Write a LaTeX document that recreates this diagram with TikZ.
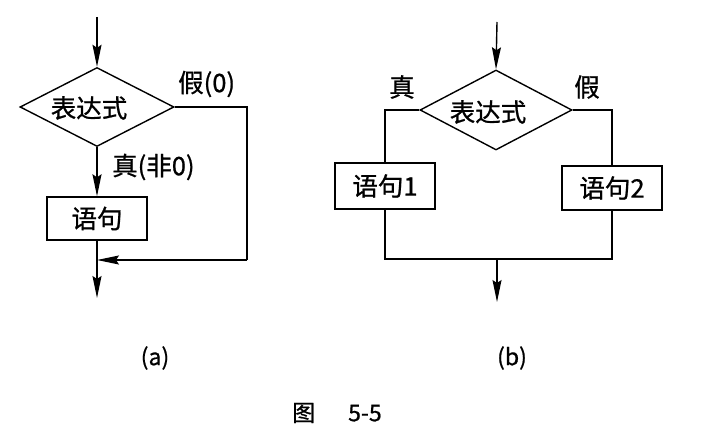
\documentclass[tikz,border=0pt]{standalone}
\usepackage{fontspec}
\setmainfont{Noto Sans CJK SC}[FakeBold=0.8]
\usetikzlibrary{shapes.geometric,arrows.meta}
\tikzset{
  ln/.style={line width=1.4pt},
  arr/.style={ln,-{Stealth[length=22pt,width=9pt,inset=3pt]}},
  dia/.style={draw,ln,diamond,inner sep=0pt,minimum width=154pt,minimum height=79pt},
  box/.style={draw,ln,rectangle,inner sep=0pt,minimum width=100pt,minimum height=44pt},
  txt/.style={font=\fontsize{25.5}{28}\selectfont},
  captxt/.style={font=\fontsize{23}{26}\selectfont},
}
\begin{document}
\begin{tikzpicture}[x=1pt,y=-1pt]
\useasboundingbox (0,0) rectangle (703,430);
% (a)
\coordinate (a0) at (97,17);
\node[dia] (ad) at (97,107) {};
\node[txt] (adt) at (89,108) {表达式};
\node[box,txt,minimum height=43pt] (ab) at (97,218.5) {语句};
\coordinate (aj) at (97,260);
\coordinate (ar) at (247,107);
\coordinate (arb) at (247,260);
\coordinate (aend) at (97,298);
\draw[arr] (a0) -- (ad.north);
\draw[arr] (ad.south) -- (ab.north);
\draw[ln] (ab.south) -- (aj);
\draw[arr] (aj) -- (aend);
\draw[ln] (ad.east) -- (ar) -- (arb);
\draw[arr] (arb) -- (aj);
\node[txt,anchor=west,inner sep=0pt] (lf) at (178,84) {假(0)};
\node[txt,anchor=west,inner sep=0pt] (lt) at (112,167) {真(非0)};
% (b)
\coordinate (b0) at (497,22);
\node[dia,minimum width=152pt,minimum height=80pt] (bd) at (496,110) {};
\node[txt] (bdt) at (488,112) {表达式};
\node[box,txt,minimum height=46pt] (b1) at (385,186) {语句1};
\node[box,txt] (b2) at (612,188) {语句2};
\coordinate (bl) at (385,110);
\coordinate (br) at (612,110);
\coordinate (bl2) at (385,259);
\coordinate (br2) at (612,259);
\coordinate (bj) at (497,259);
\coordinate (bend) at (497,302);
\draw[arr] (b0) -- (bd.north);
\draw[ln] (bd.west) -- (bl) -- (b1.north);
\draw[ln] (bd.east) -- (br) -- (b2.north);
\draw[ln] (b1.south) -- (bl2) -- (br2) -- (b2.south);
\draw[arr] (bj) -- (bend);
\node[txt,inner sep=0pt] (bt) at (402,87) {真};
\node[txt,inner sep=0pt] (bf) at (587,87) {假};
% captions
\node[captxt,inner sep=0pt] (ca) at (155,358) {(a)};
\node[captxt,inner sep=0pt] (cb) at (512,358) {(b)};
\node[captxt,inner sep=0pt,anchor=west] (capt) at (292,413) {图\hspace{33pt}5-5};
\end{tikzpicture}
\end{document}
